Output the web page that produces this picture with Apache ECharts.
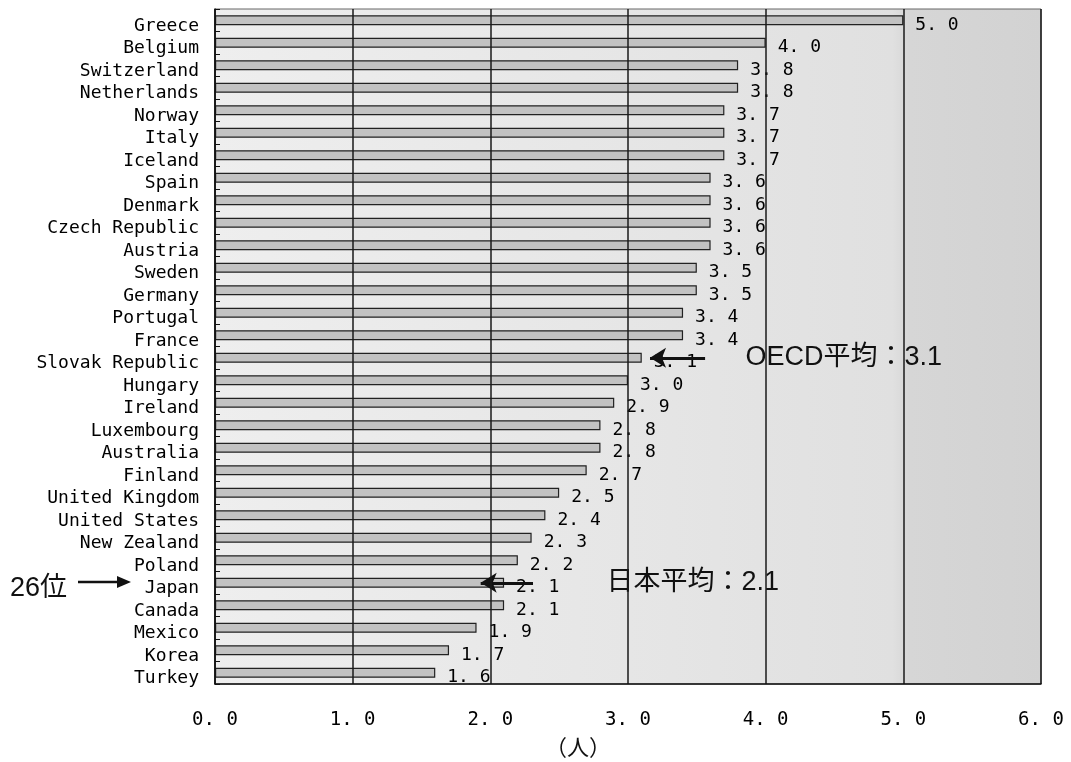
<!DOCTYPE html>
<html>
<head>
<meta charset="utf-8">
<script src="https://cdn.jsdelivr.net/npm/echarts@6/dist/echarts.min.js"></script>
<style>html,body{margin:0;padding:0;background:#fff;}#c{width:1071px;height:762px;}</style>
</head>
<body>
<div id="c"></div>
<script>
const countries = ["Greece","Belgium","Switzerland","Netherlands","Norway","Italy","Iceland","Spain","Denmark","Czech Republic","Austria","Sweden","Germany","Portugal","France","Slovak Republic","Hungary","Ireland","Luxembourg","Australia","Finland","United Kingdom","United States","New Zealand","Poland","Japan","Canada","Mexico","Korea","Turkey"];
const values = [5.0,4.0,3.8,3.8,3.7,3.7,3.7,3.6,3.6,3.6,3.6,3.5,3.5,3.4,3.4,3.1,3.0,2.9,2.8,2.8,2.7,2.5,2.4,2.3,2.2,2.1,2.1,1.9,1.7,1.6];
const xTicks = [0,1,2,3,4,5,6];
const oecdAvg = 3.1;
const japanAvg = 2.1;
const oecdText = "OECD平均：" + oecdAvg.toFixed(1);
const japanText = "日本平均：" + japanAvg.toFixed(1);
const rankText = "26位";
const unitText = "（人）";

const mono = "'DejaVu Sans Mono', monospace";
const sans = "'Liberation Sans', 'Noto Sans CJK JP', sans-serif";
const fmt = v => v.toFixed(1).replace('.', '. ');

const chart = echarts.init(document.getElementById('c'), null, {renderer:'canvas'});
chart.setOption({
  animation: false,
  backgroundColor: '#ffffff',
  grid: {
    left: 215, right: 30, top: 9, bottom: 78,
    show: true,
    borderColor: '#666', borderWidth: 1,
    backgroundColor: {type:'linear', x:0, y:0, x2:1, y2:0, colorStops:[
      {offset:0, color:'#eeeeee'}, {offset:0.5, color:'#e6e6e6'}, {offset:0.82, color:'#e0e0e0'}, {offset:0.84, color:'#d6d6d6'}, {offset:1, color:'#d2d2d2'}]}
  },
  xAxis: {
    type: 'value', min: xTicks[0], max: xTicks[xTicks.length-1], interval: 1,
    z: 10,
    axisLine: {show: true, lineStyle: {color:'#111', width: 1.5}},
    axisTick: {show: false},
    splitLine: {show: true, lineStyle: {color:'#1a1a1a', width: 1.5}},
    axisLabel: {margin: 27, color:'#000', fontFamily: mono, fontSize: 19, formatter: v => fmt(v)}
  },
  yAxis: {
    type: 'category', data: countries, inverse: true,
    z: 10,
    axisLine: {show: true, lineStyle: {color:'#111', width: 1.5}},
    axisTick: {show: true, inside: true, length: 5, interval: 0, lineStyle: {color:'#111'}},
    axisLabel: {interval: 0, margin: 16, color:'#000', fontFamily: mono, fontSize: 18, verticalAlign: 'top', lineHeight: 12}
  },
  series: [{
    type: 'bar',
    data: values,
    barWidth: 10,
    itemStyle: {color:'#c2c2c2', borderColor:'#222', borderWidth: 1.2},
    label: {show: true, position: 'right', distance: 12, offset: [0, 5], color:'#000', fontFamily: mono, fontSize: 18, formatter: p => fmt(p.value)},
    markLine: {
      silent: true,
      symbol: ['none', 'arrow'],
      symbolSize: [15, 16],
      lineStyle: {color:'#111', width: 3, type: 'solid'},
      label: {show: false},
      data: [
        [{coord: [3.56, countries[15]]}, {coord: [3.16, countries[15]]}],
        [{coord: [2.31, countries[25]]}, {coord: [1.93, countries[25]]}]
      ]
    },
    markPoint: {
      silent: true,
      symbol: 'circle', symbolSize: 1,
      itemStyle: {color: 'rgba(0,0,0,0)'},
      label: {show: true, position: 'right', distance: 0, color:'#111', fontFamily: sans, fontSize: 27},
      data: [
        {coord: [3.85, countries[15]], label: {formatter: oecdText}},
        {coord: [2.84, countries[25]], label: {formatter: japanText}}
      ]
    }
  }],
  graphic: [
    {type:'text', left: 10, top: 575, style:{text: rankText, font: "27px 'Liberation Sans', 'Noto Sans CJK JP', sans-serif", fill:'#111'}},
    {type:'line', shape:{x1:78, y1:582, x2:122, y2:582}, style:{stroke:'#111', lineWidth:2.5}},
    {type:'polygon', shape:{points:[[117,576],[131,582],[117,588]]}, style:{fill:'#111'}},
    {type:'text', left: 545, top: 736, style:{text: unitText, font: "22px 'Noto Sans CJK JP', sans-serif", fill:'#111'}}
  ]
});
</script>
</body>
</html>
